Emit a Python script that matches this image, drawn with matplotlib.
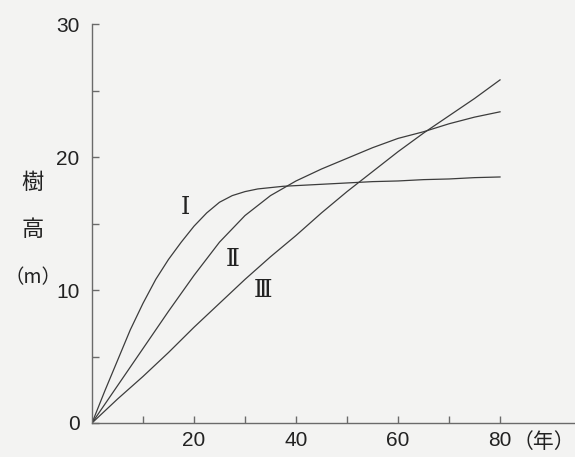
import matplotlib.pyplot as plt

plt.rcParams['font.family'] = ['Liberation Sans', 'DejaVu Sans', 'Noto Sans CJK JP']

# tree age (years) and height (m) for the three growth types
years_1 = [0, 2.5, 5, 7.5, 10, 12.5, 15, 17.5, 20, 22.5, 25, 27.5, 30, 32.5, 35, 37.5,
           40, 45, 50, 55, 60, 65, 70, 75, 80]
height_1 = [0, 2.4, 4.7, 7.0, 9.0, 10.8, 12.3, 13.6, 14.8, 15.8, 16.6, 17.1, 17.4, 17.6,
            17.7, 17.8, 17.85, 17.95, 18.05, 18.15, 18.2, 18.3, 18.35, 18.45, 18.5]

years = [0, 5, 10, 15, 20, 25, 30, 35, 40, 45, 50, 55, 60, 65, 70, 75, 80]
height_2 = [0, 2.8, 5.6, 8.4, 11.1, 13.6, 15.6, 17.1, 18.2, 19.1, 19.9, 20.7, 21.4, 21.9, 22.5, 23.0, 23.4]
height_3 = [0, 1.8, 3.5, 5.3, 7.2, 9.0, 10.8, 12.5, 14.1, 15.8, 17.4, 18.9, 20.4, 21.8, 23.1, 24.4, 25.8]

curve_labels = ['Ⅰ', 'Ⅱ', 'Ⅲ']
label_pos = [(18.4, 16.2), (27.6, 12.3), (33.6, 10.0)]

x_ticks = [20, 40, 60, 80]
y_ticks = [0, 10, 20, 30]

fig = plt.figure(figsize=(5.75, 4.57), dpi=100)
fig.patch.set_facecolor('#f3f3f2')
ax = fig.add_axes([0.16, 0.0744, 0.84, 0.873])
ax.set_facecolor('#f3f3f2')

line_col = '#3c3c3c'
ax.plot(years_1, height_1, color=line_col, lw=0.9)
ax.plot(years, height_2, color=line_col, lw=0.9)
ax.plot(years, height_3, color=line_col, lw=0.9)

for lab, (lx, ly) in zip(curve_labels, label_pos):
    ax.text(lx, ly, lab, fontsize=17, ha='center', va='center',
            family=['DejaVu Serif', 'Noto Sans CJK JP'], color='#222222')

ax.set_xlim(0, 94.7)
ax.set_ylim(0, 30)
ax.set_xticks(range(10, 90, 10))
ax.set_xticklabels([str(t) if t in x_ticks else '' for t in range(10, 90, 10)])
ax.set_yticks(range(0, 35, 5))
ax.set_yticklabels([str(t) if t in y_ticks else '' for t in range(0, 35, 5)])

for s in ('top', 'right'):
    ax.spines[s].set_visible(False)
for s in ('left', 'bottom'):
    ax.spines[s].set_color('#6a6a6a')
    ax.spines[s].set_linewidth(1.0)
ax.tick_params(direction='in', length=5, width=1.0, color='#6a6a6a',
               labelsize=15, labelcolor='#222222')
ax.tick_params(axis='y', pad=9)
ax.tick_params(axis='x', pad=6)

ax.text(82.4, -0.048, '（年）', transform=ax.get_xaxis_transform(), fontsize=15,
        ha='left', va='center', color='#222222', clip_on=False,
        family=['Noto Sans CJK JP', 'DejaVu Sans'])

# vertical y label
for txt, yy, fs in zip(['樹', '高', '（m）'], [0.6, 0.497, 0.392], [16, 16, 14]):
    fig.text(0.057, yy, txt, fontsize=fs, ha='center', va='center', color='#222222',
             family=['Noto Sans CJK JP', 'DejaVu Sans'])

fig.savefig('out.png', dpi=100, facecolor=fig.get_facecolor())
